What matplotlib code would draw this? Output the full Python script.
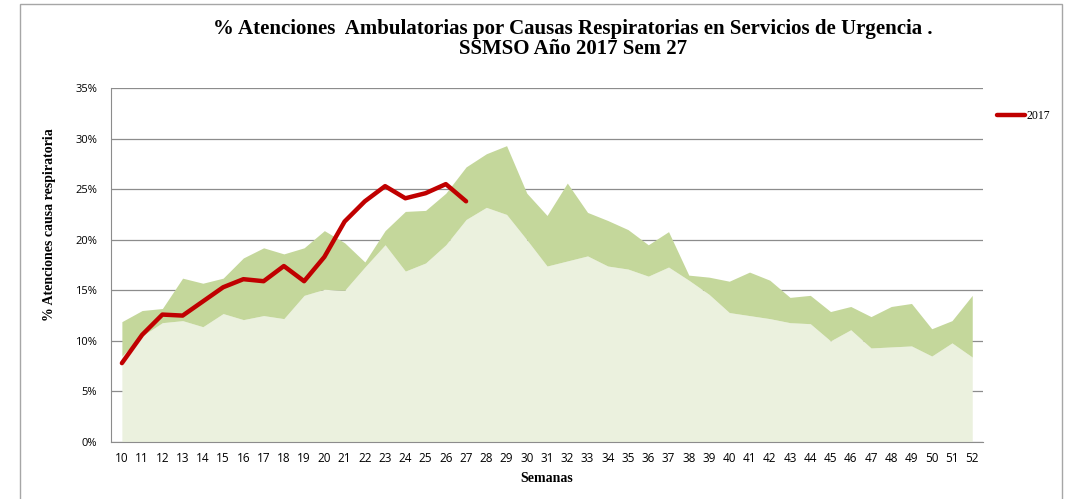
import matplotlib.pyplot as plt
from matplotlib.patches import Rectangle

# semanas epidemiologicas
weeks = list(range(10, 53))

# banda inferior (zona de seguridad) y superior (zona de alerta), en %
lower = [8.5, 10.5, 11.8, 12.0, 11.4, 12.7, 12.1, 12.5, 12.2, 14.5,
         15.1, 15.0, 17.3, 19.5, 16.9, 17.7, 19.5, 22.0, 23.2, 22.5,
         20.0, 17.4, 17.9, 18.4, 17.4, 17.1, 16.4, 17.3, 16.0, 14.6,
         12.8, 12.5, 12.2, 11.8, 11.7, 10.0, 11.1, 9.3, 9.4, 9.5,
         8.5, 9.8, 8.4]
upper = [11.9, 13.0, 13.2, 16.2, 15.7, 16.2, 18.2, 19.2, 18.6, 19.2,
         20.9, 19.7, 17.8, 20.9, 22.8, 22.9, 24.6, 27.2, 28.5, 29.3,
         24.6, 22.4, 25.6, 22.7, 21.9, 21.0, 19.5, 20.8, 16.5, 16.3,
         15.9, 16.8, 16.0, 14.3, 14.5, 12.9, 13.4, 12.4, 13.4, 13.7,
         11.2, 12.0, 14.5]

# 2017 hasta semana 27
weeks_2017 = list(range(10, 28))
vals_2017 = [7.8, 10.6, 12.6, 12.5, 13.9, 15.3, 16.1, 15.9, 17.4, 15.9,
             18.3, 21.8, 23.8, 25.3, 24.1, 24.6, 25.5, 23.8]

fig = plt.figure(figsize=(10.71, 4.99), dpi=100)
ax = fig.add_axes([0.1036, 0.1142, 0.8144, 0.7094])

ax.fill_between(weeks, 0, lower, color='#EBF1DE', linewidth=0)
ax.fill_between(weeks, lower, upper, color='#C4D79B', linewidth=0)
ax.plot(weeks_2017, vals_2017, color='#C00000', linewidth=3.2,
        solid_capstyle='round', solid_joinstyle='round', label='2017', zorder=5)

ax.set_xlim(9.46, 52.54)
ax.set_ylim(0, 35)
ax.set_yticks(range(0, 36, 5))
ax.set_yticklabels([f'{v}%' for v in range(0, 36, 5)])
ax.set_xticks(weeks)
ax.set_xticklabels([str(w) for w in weeks])
ax.yaxis.grid(True, color='#8c8c8c', linewidth=0.9)
ax.set_axisbelow(True)
for s in ['top', 'right']:
    ax.spines[s].set_visible(False)
for s in ['left', 'bottom']:
    ax.spines[s].set_color('#8c8c8c')
ax.tick_params(axis='y', length=0, labelsize=8, pad=10)
ax.tick_params(axis='x', length=0, labelsize=8.5, pad=7)
for lab in ax.get_xticklabels() + ax.get_yticklabels():
    lab.set_fontfamily('Open Sans')

ax.set_ylabel('% Atenciones causa respiratoria', fontsize=10, fontweight='bold',
              family='Liberation Serif')
ax.yaxis.set_label_coords(-0.063, 0.613)
ax.set_xlabel('Semanas', fontsize=10, fontweight='bold', family='Liberation Serif', labelpad=5)

fig.text(0.535, 0.922, '% Atenciones  Ambulatorias por Causas Respiratorias en Servicios de Urgencia .\nSSMSO Año 2017 Sem 27',
         ha='center', va='center', fontsize=15, fontweight='bold', family='Liberation Serif',
         linespacing=0.98)

leg = ax.legend(loc='center left', bbox_to_anchor=(0.921, 0.768), bbox_transform=fig.transFigure,
                frameon=False, handlelength=2.4, handletextpad=0.1,
                prop={'family': 'Liberation Serif', 'size': 8.5})

fig.patches.append(Rectangle((0.0187, -0.01), 0.9729, 1.002, transform=fig.transFigure,
                             fill=False, edgecolor='#a6a6a6', linewidth=1.0))

fig.savefig('out.png', dpi=100)
